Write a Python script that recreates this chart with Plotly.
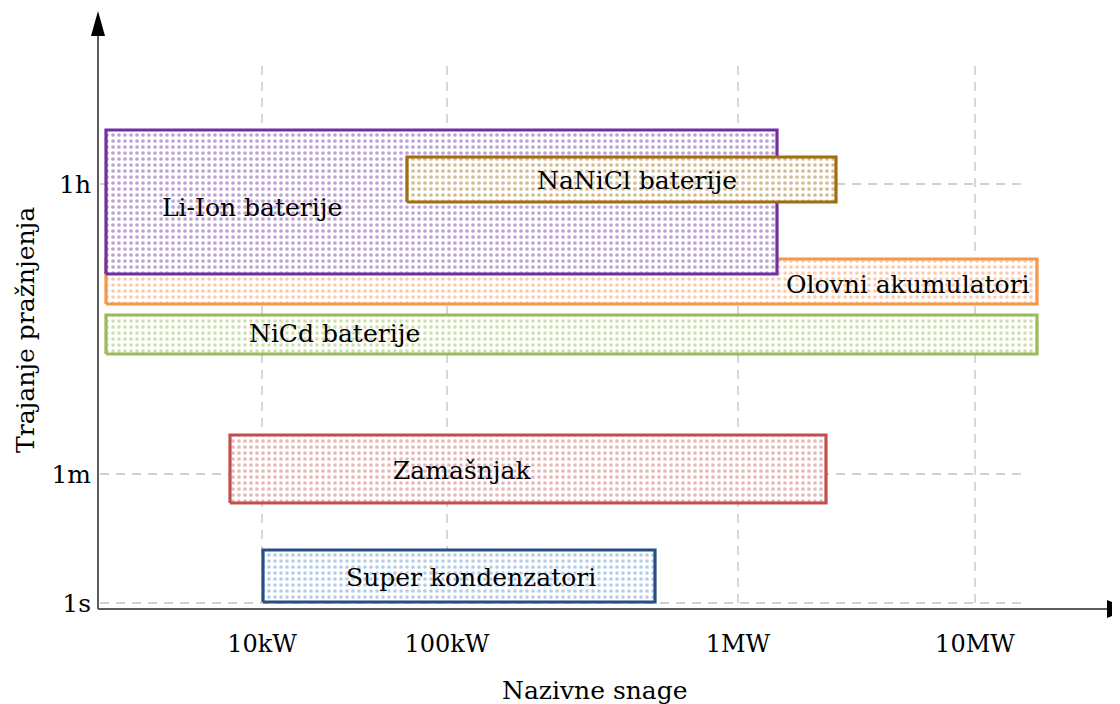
import plotly.graph_objects as go

# ---- data (schematic chart units) ----
x_tick_vals = [16.4, 34.9, 64.0, 87.7]
x_tick_text = ["10kW", "100kW", "1MW", "10MW"]
y_tick_vals = [0.6, 13.5, 42.5]
y_tick_text = ["1s", "1m", "1h"]

names = ["Olovni akumulatori", "NiCd baterije", "Li-Ion baterije",
         "NaNiCl baterije", "Zamašnjak", "Super kondenzatori"]
x_start = [0.8, 0.8, 0.8, 30.9, 13.2, 16.5]
x_end = [93.9, 93.9, 67.9, 73.8, 72.8, 55.7]
y_start = [30.5, 25.5, 33.5, 40.7, 10.6, 0.7]
y_end = [35.0, 29.4, 47.9, 45.2, 17.4, 5.9]
label_x = [81.0, 23.6, 15.4, 53.9, 36.4, 37.3]
label_y = [32.5, 27.6, 40.2, 42.9, 13.9, 3.2]

line_colors = ["#F79646", "#9BBB59", "#7030A0", "#A06E10", "#C0504D", "#2A4D86"]
dot_colors = ["#F59A5C", "#9CBE60", "#7E45B0", "#A87A28", "#D0706E", "#6E9BD6"]

grid_v_top = 54.6
grid_h_right = 93.0
grid_h_left = 0.2

FONT = "DejaVu Serif"

fig = go.Figure()

# gridlines
for xv in x_tick_vals:
    fig.add_trace(go.Scatter(x=[xv, xv], y=[y_tick_vals[0], grid_v_top], mode="lines",
                             line=dict(color="#C0C0C0", width=1.3, dash="9px,7px"),
                             hoverinfo="skip", showlegend=False))
for yv in y_tick_vals:
    fig.add_trace(go.Scatter(x=[grid_h_left, grid_h_right], y=[yv, yv], mode="lines",
                             line=dict(color="#C0C0C0", width=1.3, dash="9px,7px"),
                             hoverinfo="skip", showlegend=False))

# boxes
for i, n in enumerate(names):
    x0, x1, y0, y1 = x_start[i], x_end[i], y_start[i], y_end[i]
    fig.add_trace(go.Scatter(
        x=[x0, x1, x1, x0, x0], y=[y0, y0, y1, y1, y0], mode="lines",
        fill="toself", fillcolor="white",
        fillpattern=dict(shape=".", fgcolor=dot_colors[i], bgcolor="white",
                         size=6, solidity=0.3),
        line=dict(color=line_colors[i], width=3.2),
        name=n, showlegend=False, hoverinfo="skip"))

annotations = []
for i, n in enumerate(names):
    annotations.append(dict(x=label_x[i], y=label_y[i], xref="x", yref="y", text=n,
                            showarrow=False, font=dict(family=FONT, size=25, color="black")))

annotations.append(dict(x=(595 - 98) / 1020, y=-(690 - 609) / 597, xref="paper", yref="paper",
                        xanchor="center", yanchor="middle",
                        text="Nazivne snage", showarrow=False,
                        font=dict(family=FONT, size=25, color="black")))
annotations.append(dict(x=-(98 - 25) / 1020, y=(609 - 330) / 597, xref="paper", yref="paper",
                        xanchor="center", yanchor="middle",
                        text="Trajanje pražnjenja", showarrow=False, textangle=-90,
                        font=dict(family=FONT, size=25, color="black")))

axis_col = "#5A5A5A"
shapes = [
    dict(type="line", xref="paper", yref="paper", x0=0, y0=0, x1=0.99, y1=0,
         line=dict(color=axis_col, width=2)),
    dict(type="line", xref="paper", yref="paper", x0=0, y0=0, x1=0, y1=0.965,
         line=dict(color=axis_col, width=2)),
    dict(type="path", xref="paper", yref="paper",
         path=f"M {-7/1020},{(609-36)/597} L {7/1020},{(609-36)/597} L 0,{(609-11)/597} Z",
         fillcolor="black", line=dict(color="black", width=0)),
    dict(type="path", xref="paper", yref="paper",
         path=f"M {1009/1020},{9/597} L {1009/1020},{-9/597} L {1032/1020},0 Z",
         fillcolor="black", line=dict(color="black", width=0)),
]

# the page body adds an 8px offset, so the margins are shifted to compensate
fig.update_layout(
    width=1120, height=704,
    margin=dict(l=90, r=10, t=4, b=103, autoexpand=False),
    paper_bgcolor="white", plot_bgcolor="white",
    xaxis=dict(range=[0, 102], showgrid=False, zeroline=False, showline=False,
               automargin=False,
               tickmode="array", tickvals=x_tick_vals, ticktext=x_tick_text,
               ticks="", ticklabelstandoff=18,
               tickfont=dict(family=FONT, size=24, color="black")),
    yaxis=dict(range=[0, 59.7], showgrid=False, zeroline=False, showline=False,
               automargin=False,
               tickmode="array", tickvals=y_tick_vals, ticktext=y_tick_text,
               ticks="", ticklabelstandoff=6,
               tickfont=dict(family=FONT, size=25, color="black")),
    annotations=annotations, shapes=shapes, showlegend=False,
)

fig.write_html("out.html")
